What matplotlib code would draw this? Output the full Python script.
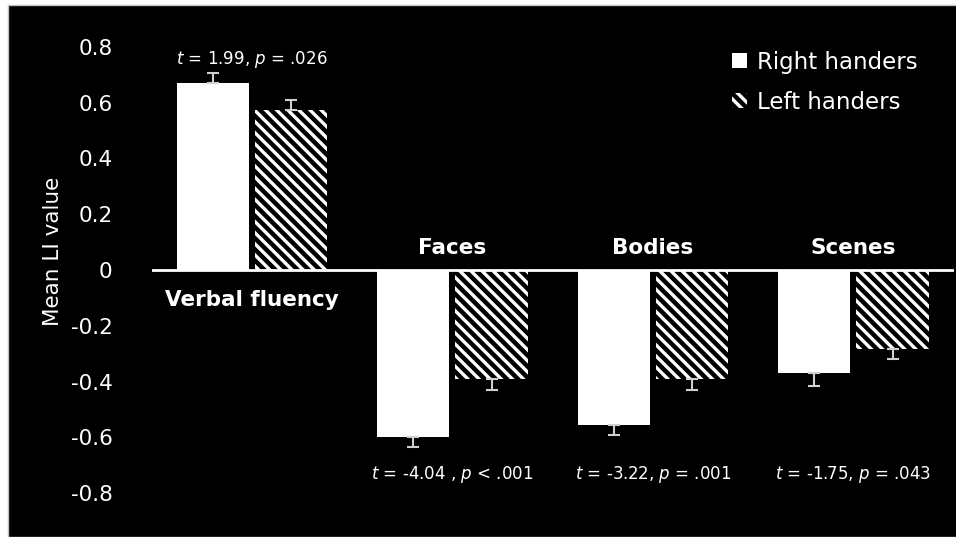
import numpy as np
import matplotlib.pyplot as plt
from matplotlib.patches import Rectangle

categories = ["Verbal fluency", "Faces", "Bodies", "Scenes"]
series_names = ["Right handers", "Left handers"]
right_vals = [0.67, -0.60, -0.555, -0.37]
left_vals = [0.575, -0.39, -0.39, -0.285]
right_err = [0.037, 0.035, 0.035, 0.045]
left_err = [0.035, 0.04, 0.04, 0.033]
stats = [
    r"$\it{t}$ = 1.99, $\it{p}$ = .026",
    r"$\it{t}$ = -4.04 , $\it{p}$ < .001",
    r"$\it{t}$ = -3.22, $\it{p}$ = .001",
    r"$\it{t}$ = -1.75, $\it{p}$ = .043",
]
yticks = [0.8, 0.6, 0.4, 0.2, 0, -0.2, -0.4, -0.6, -0.8]


def main():
    plt.rcParams["font.family"] = ["DejaVu Sans"]
    fig = plt.figure(figsize=(9.56, 5.37), dpi=100, facecolor="white")
    fig.patches.append(Rectangle((8 / 956, 0), 1, 1 - 5 / 537, transform=fig.transFigure,
                                 facecolor="black", edgecolor="#c0c0c0", lw=1, zorder=-1))

    ax = fig.add_axes([0.1586, 0.0298, 0.839, 0.935])
    ax.set_facecolor("none")

    x = np.arange(len(categories))
    w = 0.36
    off = 0.195

    # one-sided error bars (away from zero)
    r_yerr = [[0 if v > 0 else e for v, e in zip(right_vals, right_err)],
              [e if v > 0 else 0 for v, e in zip(right_vals, right_err)]]
    l_yerr = [[0 if v > 0 else e for v, e in zip(left_vals, left_err)],
              [e if v > 0 else 0 for v, e in zip(left_vals, left_err)]]

    plt.rcParams["hatch.linewidth"] = 2.4
    ax.bar(x - off, right_vals, w, color="white", edgecolor="white", lw=0,
           label=series_names[0], zorder=2)
    ax.bar(x + off, left_vals, w, color="black", edgecolor="white", lw=0,
           hatch="\\\\\\", label=series_names[1], zorder=2)
    ax.errorbar(x - off, right_vals, yerr=r_yerr, fmt="none", ecolor="#d0d0d0",
                elinewidth=1.5, capsize=4, capthick=1.5, zorder=3)
    ax.errorbar(x + off, left_vals, yerr=l_yerr, fmt="none", ecolor="#d0d0d0",
                elinewidth=1.5, capsize=4, capthick=1.5, zorder=3)

    ax.axhline(0, color="white", lw=2, zorder=4)

    ax.set_xlim(-0.5, len(categories) - 0.5)
    ax.set_ylim(-0.9, 0.9)
    ax.set_yticks(yticks)
    ax.set_yticklabels(["0" if t == 0 else f"{t:.1f}" for t in yticks])
    ax.tick_params(axis="y", length=0, pad=28, labelsize=15.5, labelcolor="white")
    ax.set_xticks([])
    for s in ax.spines.values():
        s.set_visible(False)

    ax.set_ylabel("Mean LI value", color="white", fontsize=15.5)
    ax.yaxis.set_label_coords(-0.111, 0.536)

    # category names
    ax.text(x[0], -0.108, categories[0], color="white", fontsize=15.5,
            fontweight="bold", ha="center", va="center")
    for i in range(1, len(categories)):
        ax.text(x[i], 0.079, categories[i], color="white", fontsize=15.5,
                fontweight="bold", ha="center", va="center")

    # statistics
    ax.text(x[0], 0.753, stats[0], color="white", fontsize=12,
            ha="center", va="center")
    for i in range(1, len(categories)):
        ax.text(x[i], -0.735, stats[i], color="white", fontsize=12,
                ha="center", va="center")

    leg = ax.legend(loc="upper left", bbox_to_anchor=(0.698, 0.978), frameon=False,
                    fontsize=16.5, handlelength=0.65, handleheight=0.65, handletextpad=0.45,
                    labelspacing=0.75)
    for t in leg.get_texts():
        t.set_color("white")

    fig.savefig("out.png", dpi=100, facecolor=fig.get_facecolor())


if __name__ == "__main__":
    main()
